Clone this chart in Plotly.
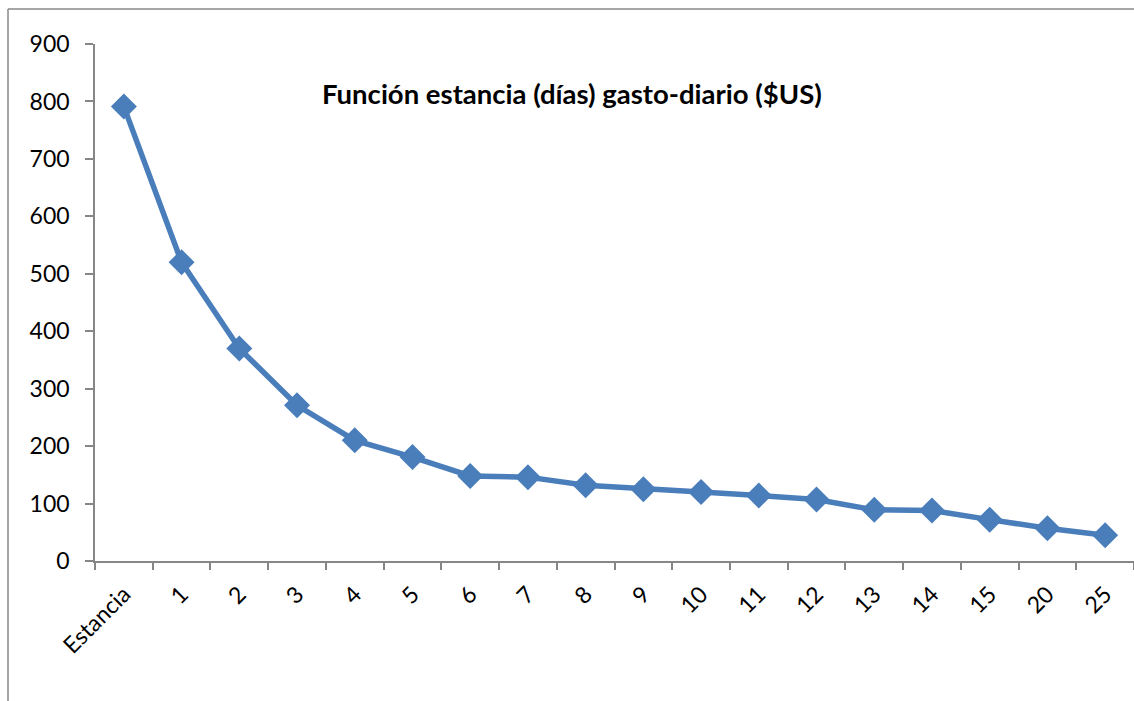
import plotly.graph_objects as go

categories = ["Estancia", "1", "2", "3", "4", "5", "6", "7", "8", "9", "10",
              "11", "12", "13", "14", "15", "20", "25"]
gasto_diario = [791, 520, 370, 271, 210, 181, 148, 146, 132, 125, 120,
                114, 107, 89, 88, 72, 57, 45]
y_ticks = [0, 100, 200, 300, 400, 500, 600, 700, 800, 900]
title_text = "Función estancia (días) gasto-diario ($US)"

W, H = 1134, 701
ml, mr, mt, mb = 95, 0, 44, 140

fig = go.Figure()
fig.add_trace(go.Scatter(
    x=categories, y=gasto_diario, mode="lines+markers",
    line=dict(color="#4A7EBB", width=5.5),
    marker=dict(symbol="diamond", size=20, color="#4A7EBB"),
    cliponaxis=False, showlegend=False,
))

font_family = "Lato, 'Open Sans', sans-serif"

fig.update_layout(
    width=W, height=H,
    margin=dict(l=ml, r=mr, t=mt, b=mb, pad=0, autoexpand=False),
    paper_bgcolor="white", plot_bgcolor="white",
    font=dict(family=font_family, size=23, color="black"),
    xaxis=dict(
        type="category", tickson="boundaries", ticks="outside", ticklen=7,
        tickcolor="#868686", tickwidth=1.5, ticklabelstandoff=9,
        showline=True, linecolor="#868686", linewidth=1.5,
        showgrid=False, tickangle=-45, zeroline=False, automargin=False,
        range=[-0.5, len(categories) - 0.5],
        tickfont=dict(family=font_family, size=23),
    ),
    yaxis=dict(
        range=[0, 900], tickvals=y_ticks, ticks="outside", ticklen=8,
        tickcolor="#868686", tickwidth=1.5, automargin=False,
        ticklabelstandoff=11,
        showline=True, linecolor="#868686", linewidth=1.5,
        showgrid=False, zeroline=False,
        tickfont=dict(family=font_family, size=23),
    ),
)

fig.add_annotation(
    text="<b>" + title_text + "</b>", xref="paper", yref="paper",
    x=(572 - ml) / (W - ml - mr), y=(H - mb - 93) / (H - mt - mb),
    showarrow=False, font=dict(family=font_family, size=27.5, color="black"),
    xanchor="center", yanchor="middle",
)

# outer chart frame (partially visible)
pw, ph = W - ml - mr, H - mt - mb
fx = (8 - ml) / pw
fy = (H - mb - 9) / ph
fb = (H - mb - H - 5) / ph
fr = (W + 5 - ml) / pw
fig.add_shape(type="line", xref="paper", yref="paper", x0=fx, x1=fx, y0=fb, y1=fy,
              line=dict(color="#898989", width=1.5))
fig.add_shape(type="line", xref="paper", yref="paper", x0=fx, x1=fr, y0=fy, y1=fy,
              line=dict(color="#898989", width=1.5))

fig.write_html("out.html", config={"displayModeBar": False},
               post_script="document.body.style.margin='0';document.body.style.overflow='hidden';")
